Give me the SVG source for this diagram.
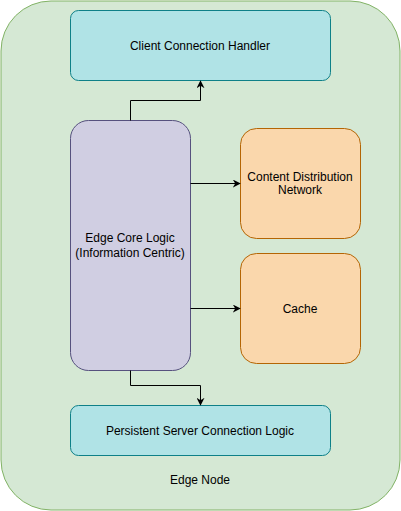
<svg xmlns="http://www.w3.org/2000/svg" width="401" height="511" viewBox="0 0 401 511">
<style>
text{font-family:"Liberation Sans",Arial,sans-serif;font-size:12px;fill:#000;text-anchor:middle;dominant-baseline:central}
.teal{fill:#b0e3e6;stroke:#0e8088}
.purple{fill:#d0cee2;stroke:#56517e}
.orange{fill:#fad7ac;stroke:#b46504}
.edge{fill:none;stroke:#000;stroke-width:1}
</style>
<defs>
<marker id="arr" viewBox="0 0 10 10" refX="9" refY="5" markerWidth="8" markerHeight="8" markerUnits="userSpaceOnUse" orient="auto">
<path d="M0,0 L10,5 L0,10 L3,5 Z" fill="#000"/>
</marker>
</defs>
<g id="edge-node">
<rect x="1" y="1" width="399" height="509" rx="50" fill="#d5e8d4" stroke="#82b366"/>
<text x="200" y="480">Edge Node</text>
</g>
<g id="client-connection-handler">
<rect class="teal" x="70.5" y="10.5" width="260" height="70" rx="8"/>
<text x="200" y="45.5">Client Connection Handler</text>
</g>
<g id="edge-core-logic">
<rect class="purple" x="70.5" y="120.5" width="120" height="250" rx="18"/>
<text x="130" y="238">Edge Core Logic</text>
<text x="130" y="253">(Information Centric)</text>
</g>
<g id="cdn">
<rect class="orange" x="240.5" y="128.5" width="120" height="110" rx="16"/>
<text x="300" y="177">Content Distribution</text>
<text x="300" y="190">Network</text>
</g>
<g id="cache">
<rect class="orange" x="240.5" y="253.5" width="120" height="110" rx="16"/>
<text x="300" y="308.5">Cache</text>
</g>
<g id="persistent-server-connection-logic">
<rect class="teal" x="70.5" y="405.5" width="260" height="50" rx="8"/>
<text x="200" y="430.5">Persistent Server Connection Logic</text>
</g>
<g id="connectors">
<path class="edge" d="M130.5,120.5 V100.5 H200.5 V81" marker-end="url(#arr)"/>
<path class="edge" d="M190.5,183.5 H240" marker-end="url(#arr)"/>
<path class="edge" d="M190.5,308.5 H240" marker-end="url(#arr)"/>
<path class="edge" d="M130.5,370.5 V385.5 H200.5 V405" marker-end="url(#arr)"/>
</g>
</svg>
